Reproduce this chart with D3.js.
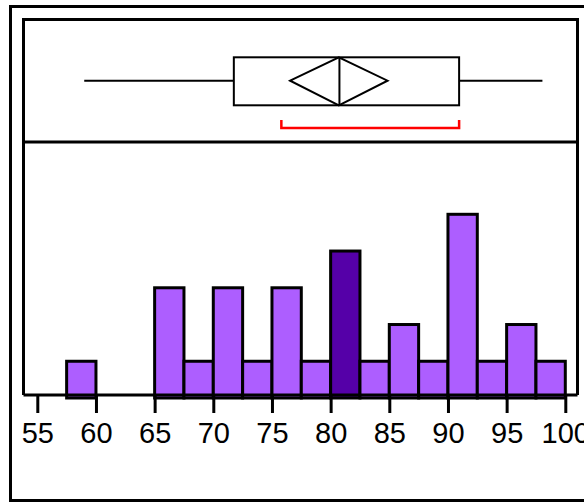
<!DOCTYPE html>
<html>
<head>
<meta charset="utf-8">
<script src="https://cdn.jsdelivr.net/npm/d3@7"></script>
<style>
  html, body { margin: 0; padding: 0; background: #fff; }
  svg { display: block; }
</style>
</head>
<body>
<svg id="chart" width="584" height="502"></svg>
<script>
// ---- data ----
const binStarts = [57.5, 60, 62.5, 65, 67.5, 70, 72.5, 75, 77.5, 80, 82.5, 85, 87.5, 90, 92.5, 95, 97.5];
const binCounts = [1, 0, 0, 3, 1, 3, 1, 3, 1, 4, 1, 2, 1, 5, 1, 2, 1];
const highlightBin = 80;
const binWidth = 2.5;
const tickValues = [55, 60, 65, 70, 75, 80, 85, 90, 95, 100];
const whiskerLow = 59.0, whiskerHigh = 98.05;
const quartile1 = 71.75, quartile3 = 90.95;
const median = 80.75;
const meanValue = 80.7, meanCIHalf = 4.15;
const shortestHalf = [75.8, 90.95];

// ---- layout ----
const svg = d3.select("#chart");
const x = d3.scaleLinear().domain([55, 100]).range([37.3, 565.3]);
const y = d3.scaleLinear().domain([0, 5]).range([398, 214.3]);
const inner = { left: 23.5, top: 19.5, right: 577.5, axis: 395, sep: 142 };
const light = "#ad5eff", dark = "#5500a8";

// outer frame
svg.append("rect").attr("x", 10.5).attr("y", 6.5).attr("width", 600).attr("height", 494)
  .attr("fill", "none").attr("stroke", "#000").attr("stroke-width", 3);

// histogram bars
svg.append("g").selectAll("rect")
  .data(binStarts.map((s, i) => ({ s, c: binCounts[i] })).filter(d => d.c > 0))
  .join("rect")
  .attr("x", d => x(d.s))
  .attr("width", d => x(d.s + binWidth) - x(d.s))
  .attr("y", d => y(d.c))
  .attr("height", d => y(0) - y(d.c))
  .attr("fill", d => d.s === highlightBin ? dark : light)
  .attr("stroke", "#000").attr("stroke-width", 3);

// inner frame
svg.append("path")
  .attr("d", `M${inner.left},${inner.axis}V${inner.top}H${inner.right}V${inner.axis}`)
  .attr("fill", "none").attr("stroke", "#000").attr("stroke-width", 3);
svg.append("line").attr("x1", inner.left).attr("x2", inner.right)
  .attr("y1", inner.sep).attr("y2", inner.sep).attr("stroke", "#000").attr("stroke-width", 3);

// axis
const axisG = svg.append("g").attr("transform", `translate(0,${inner.axis})`)
  .call(d3.axisBottom(x).tickValues(tickValues).tickSize(18).tickPadding(8).tickSizeOuter(0));
axisG.select(".domain").attr("d", `M${inner.left},0H${inner.right}`).attr("stroke-width", 3);
axisG.selectAll(".tick line").attr("stroke-width", 3);
axisG.selectAll(".tick text")
  .attr("font-family", "Liberation Sans, Arial, sans-serif").attr("font-size", 29)
  .attr("fill", "#000").attr("y", 27).attr("dy", "0.72em");

// box plot
const bp = svg.append("g").attr("stroke", "#000").attr("stroke-width", 2).attr("fill", "none");
const yTop = 57.3, yBot = 105.3, yMid = 80.7;
bp.append("line").attr("x1", x(whiskerLow)).attr("x2", x(quartile1)).attr("y1", yMid).attr("y2", yMid);
bp.append("line").attr("x1", x(quartile3)).attr("x2", x(whiskerHigh)).attr("y1", yMid).attr("y2", yMid);
bp.append("rect").attr("x", x(quartile1)).attr("y", yTop)
  .attr("width", x(quartile3) - x(quartile1)).attr("height", yBot - yTop);
bp.append("line").attr("x1", x(median)).attr("x2", x(median)).attr("y1", yTop).attr("y2", yBot);
bp.append("path").attr("d",
  `M${x(meanValue - meanCIHalf)},${yMid}L${x(meanValue)},${yTop}L${x(meanValue + meanCIHalf)},${yMid}L${x(meanValue)},${yBot}Z`);

// shortest half bracket
svg.append("path")
  .attr("d", `M${x(shortestHalf[0])},120V128H${x(shortestHalf[1])}V120`)
  .attr("fill", "none").attr("stroke", "#ff0000").attr("stroke-width", 2.5);
</script>
</body>
</html>
